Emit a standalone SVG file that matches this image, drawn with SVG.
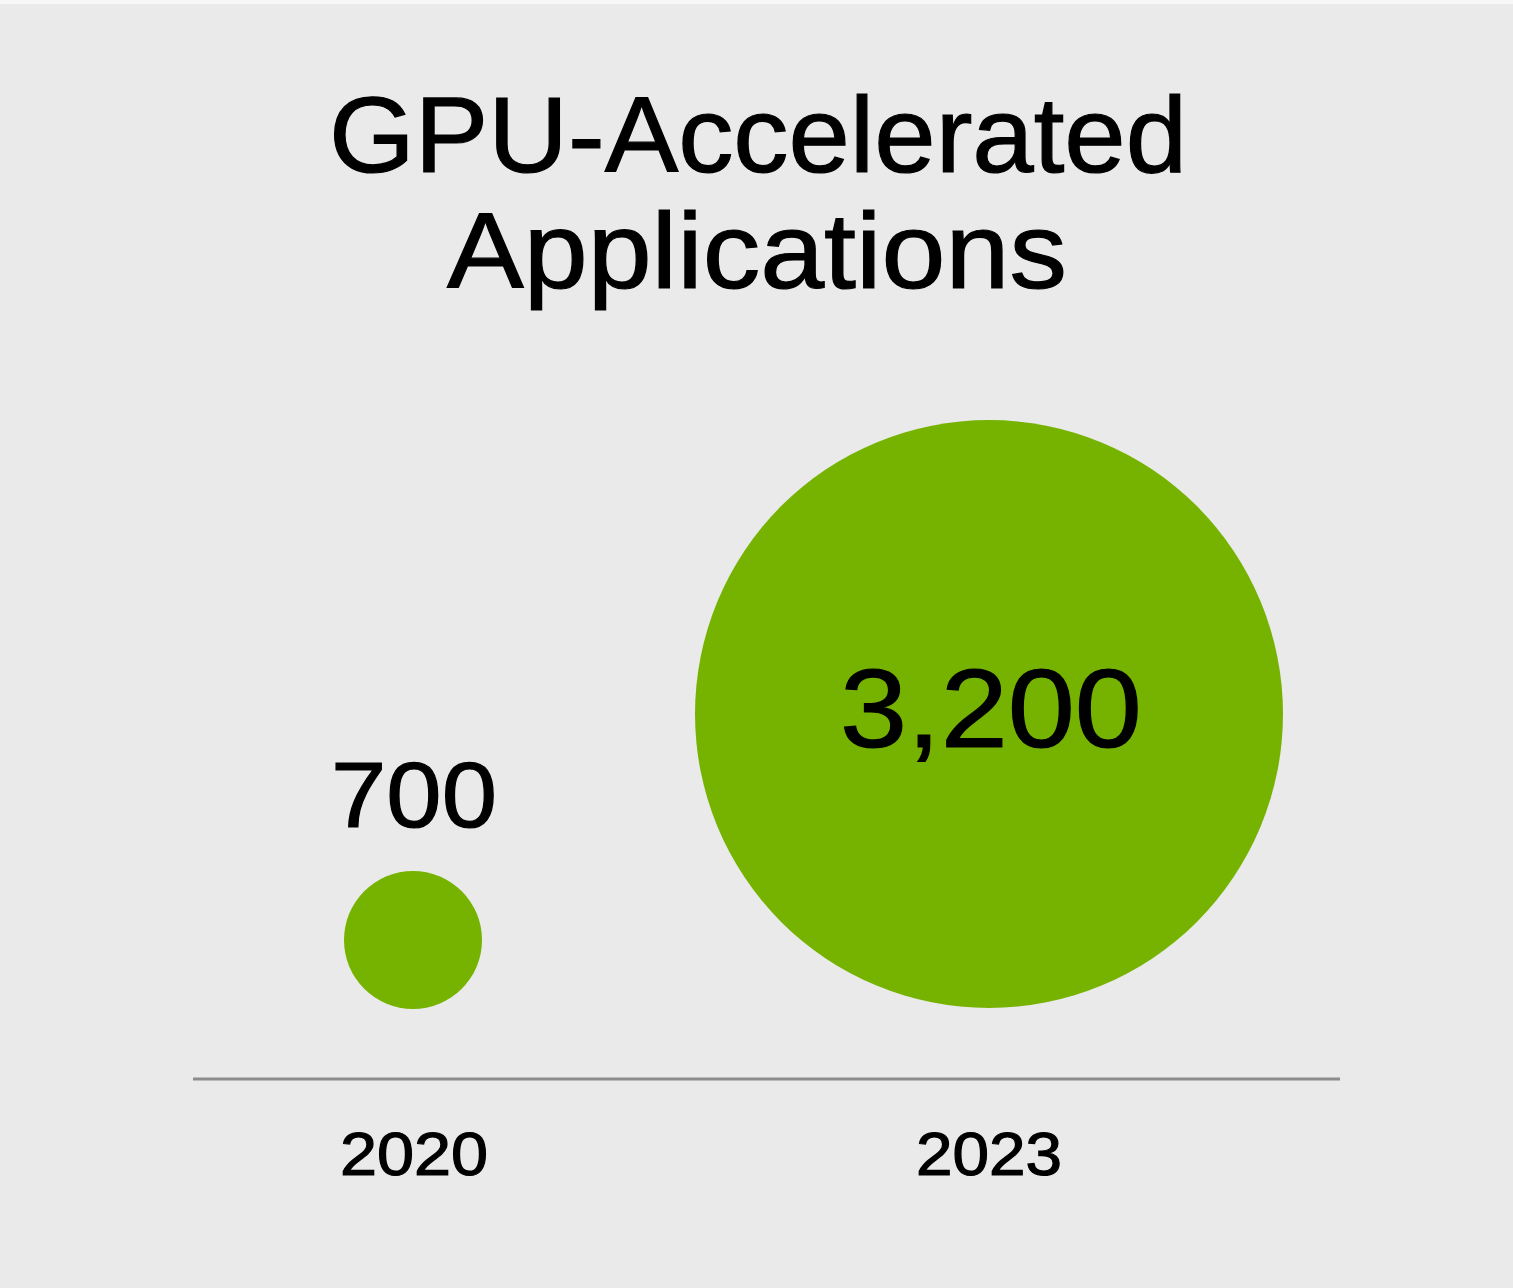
<svg xmlns="http://www.w3.org/2000/svg" width="1513" height="1288" viewBox="0 0 1513 1288">
<style>
.t{font-family:"Liberation Sans",Arial,sans-serif;fill:#000;stroke:#000;stroke-width:1.2;text-anchor:middle}
.b{fill:#76b300}
</style>
<rect x="0" y="0" width="1513" height="1288" fill="#f7f7f7"/>
<rect x="0" y="4" width="1513" height="1284" fill="#eaeaea"/>
<g id="title">
<text class="t" x="758" y="172" font-size="108" textLength="858" lengthAdjust="spacingAndGlyphs">GPU-Accelerated</text>
<text class="t" x="757" y="288" font-size="108" textLength="620" lengthAdjust="spacingAndGlyphs">Applications</text>
</g>
<g id="connectors">
<line x1="193" y1="1079" x2="1340" y2="1079" stroke="#8c8c8c" stroke-width="3"/>
</g>
<g id="node-2020">
<circle class="b" cx="413" cy="940" r="69"/>
<text class="t" x="414" y="827" font-size="93" textLength="166" lengthAdjust="spacingAndGlyphs">700</text>
<text class="t" x="414" y="1175" font-size="61" textLength="148" lengthAdjust="spacingAndGlyphs">2020</text>
</g>
<g id="node-2023">
<circle class="b" cx="989" cy="714" r="294"/>
<text class="t" x="991" y="747" font-size="111" textLength="302" lengthAdjust="spacingAndGlyphs">3,200</text>
<text class="t" x="989" y="1175" font-size="61" textLength="146" lengthAdjust="spacingAndGlyphs">2023</text>
</g>
</svg>
